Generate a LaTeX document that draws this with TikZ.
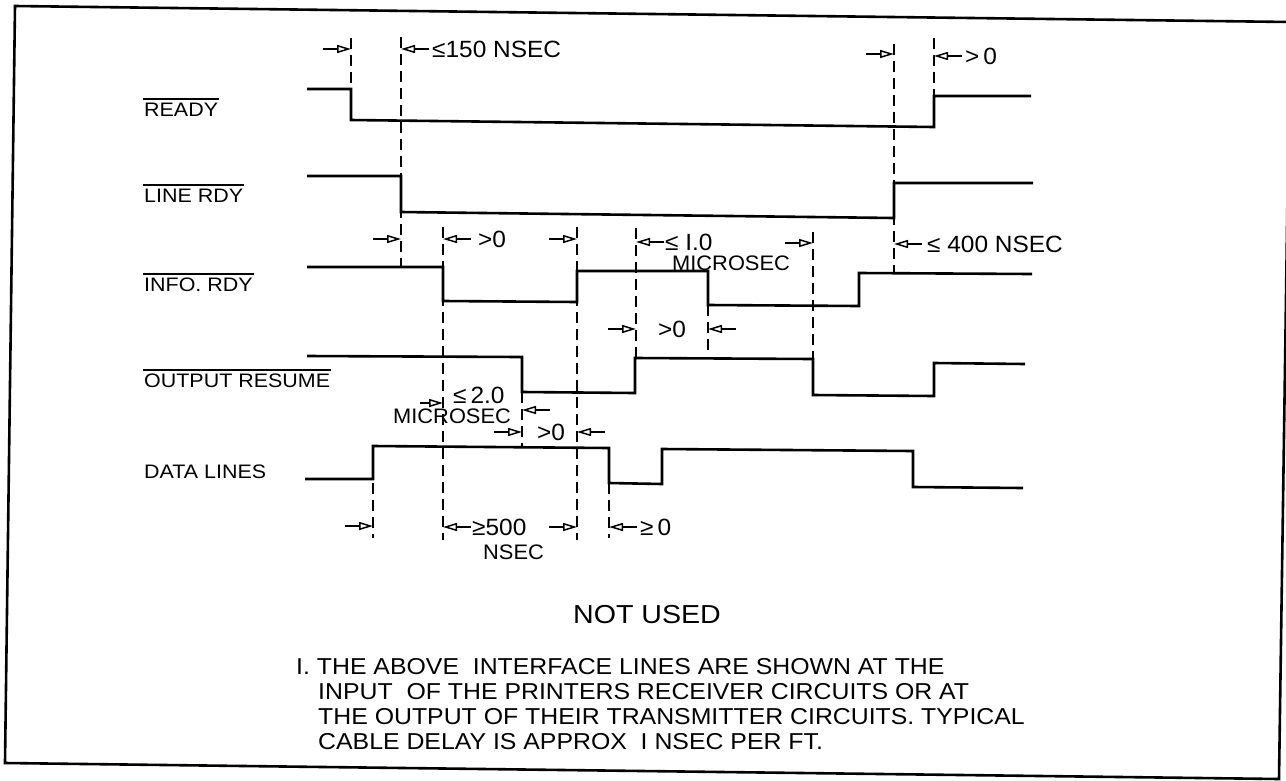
\documentclass[tikz,border=0pt]{standalone}
\usepackage{fontspec}
\setmainfont{Liberation Sans}
\newfontfamily\sigfont[FakeStretch=1.1]{Liberation Sans}
\newfontfamily\tfont[FakeStretch=1.04]{Liberation Sans}
\newfontfamily\notefont[FakeStretch=1.08]{Liberation Sans}
\usetikzlibrary{arrows.meta}
\begin{document}
\begin{tikzpicture}[x=1pt,y=-1pt,
  wave/.style={line width=2.6pt},
  guide/.style={line width=2pt, dash pattern=on 11pt off 6pt},
  mtick/.style={line width=1.5pt, -{Triangle[open,length=14pt,width=8pt,line width=1.5pt]}},
  sig/.style={anchor=west, inner sep=1pt, font=\sigfont\fontsize{19.5}{20}\selectfont},
  tlab/.style={anchor=west, inner sep=0pt, font=\tfont\fontsize{23.5}{24}\selectfont},
  tsub/.style={anchor=west, inner sep=0pt, font=\tfont\fontsize{21}{22}\selectfont},
  note/.style={anchor=west, inner sep=0pt, font=\notefont\fontsize{23}{24}\selectfont},
  bar/.style={line width=1.8pt}]
\useasboundingbox (0,0) rectangle (1286,780);
% frame
\draw[line width=2.6pt] (15,6) -- (1290,22) -- (1279,779) -- (5,763) -- cycle;
% signal labels
\node[sig] (ready) at (143,110) {READY};
\node[sig] (linerdy) at (143,196) {LINE RDY};
\node[sig] (infordy) at (143,285) {INFO. RDY};
\node[sig] (outres) at (143,381) {OUTPUT RESUME};
\node[sig] (data) at (143,472) {DATA LINES};
\foreach \n in {ready,linerdy,infordy,outres}
  \draw[bar] ([yshift=3pt]\n.north west) -- ([yshift=3pt]\n.north east);
% waveforms
\draw[wave] (307,89) -- (351,89) -- (351,120) -- (934,127) -- (934,96) -- (1031,96);
\draw[wave] (307,176) -- (401,176) -- (401,212) -- (894,218) -- (894,183) -- (1033,183);
\draw[wave] (307,267) -- (443,267) -- (443,301) -- (577,302) -- (577,271) -- (708,271) -- (708,305) -- (859,306) -- (859,273) -- (1032,274);
\draw[wave] (307,356) -- (522,357) -- (522,392) -- (635,393) -- (635,358) -- (813,359) -- (813,395) -- (934,396) -- (934,363) -- (1025,364);
\draw[wave] (305,479) -- (373,479) -- (373,446) -- (609,448) -- (609,483) -- (662,484) -- (662,449) -- (913,451) -- (913,487) -- (1023,488);
% dashed guides
\draw[guide] (351,38) -- (351,89);
\draw[guide] (401,37) -- (401,267);
\draw[guide] (894,44) -- (894,273);
\draw[guide] (934,38) -- (934,96);
\draw[guide] (443,227) -- (443,540);
\draw[guide] (577,227) -- (577,540);
\draw[guide] (522,392) -- (522,446);
\draw[guide] (636,228) -- (636,358);
\draw[guide] (708,305) -- (708,355);
\draw[guide] (813,232) -- (813,359);
\draw[guide] (373,483) -- (373,538);
\draw[guide] (609,483) -- (609,538);
% timing arrows: right-pointing
\foreach \x/\y in {351/49, 894/54, 401/239, 577/239, 813/243, 636/329, 522/432, 373/526, 577/527}
  \draw[mtick] (\x-28,\y) -- (\x,\y);
\draw[mtick] (420,403) -- (443,403);
% timing arrows: left-pointing
\foreach \x/\y in {401/49, 934/56, 443/239, 636/242, 894/244, 708/329, 522/410, 577/432, 443/527, 609/527}
  \draw[mtick] (\x+28,\y) -- (\x,\y);
% timing labels
\node[tlab] (t1) at (432,49) {≤150 NSEC};
\node[tlab] (t2) at (965,56) {>\,0};
\node[tlab] (t3) at (478,239) {>0};
\node[tlab] (t4) at (665,242) {≤ I.0};
\node[tsub] (t4b) at (672,263) {MICROSEC};
\node[tlab] (t5) at (927,244) {≤ 400 NSEC};
\node[tlab] (t6) at (658,329) {>0};
\node[tlab] (t7) at (453,395) {≤\,2.0};
\node[tsub] (t7b) at (393,416) {MICROSEC};
\node[tlab] (t8) at (537,432) {>0};
\node[tlab] (t9) at (472,527) {≥500};
\node[tsub] (t9b) at (483,552) {NSEC};
\node[tlab] (t10) at (640,527) {≥\,0};
% notes
\node[font=\sigfont\fontsize{26}{27}\selectfont, inner sep=0pt] (nu) at (647,615) {NOT USED};
\node[note] (n1) at (296,667) {I. THE ABOVE\ \ INTERFACE LINES ARE SHOWN AT THE};
\node[note] (n2) at (318,692) {INPUT\ \ OF THE PRINTERS RECEIVER CIRCUITS OR AT};
\node[note] (n3) at (318,717) {THE OUTPUT OF THEIR TRANSMITTER CIRCUITS. TYPICAL};
\node[note] (n4) at (318,742) {CABLE DELAY IS APPROX\ \ I NSEC PER FT.};
\end{tikzpicture}
\end{document}
